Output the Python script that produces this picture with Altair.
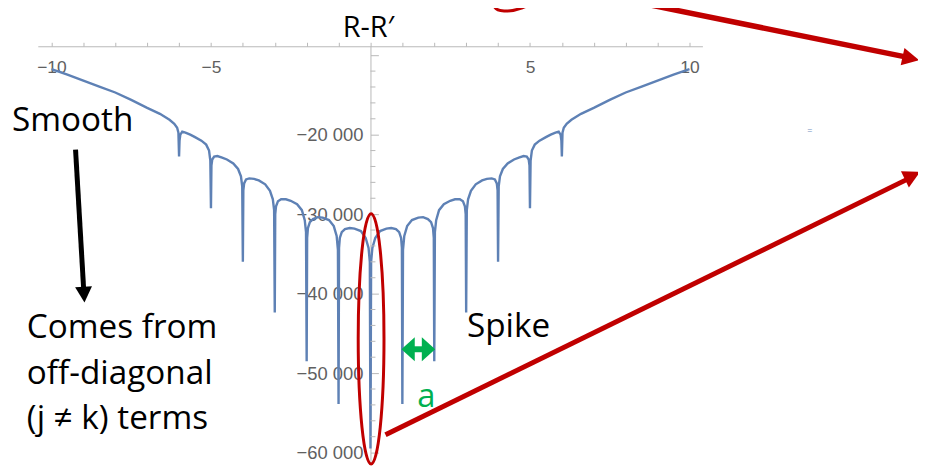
import altair as alt
import pandas as pd

# ---- curve values (x, R-R') ----
X_LEFT = [-10, -9.5, -9, -8.5, -8, -7.5, -7, -6.6, -6.3, -6.15, -6.06, -6.02,
          -6,
          -5.985, -5.96, -5.9, -5.8, -5.65, -5.5, -5.3, -5.15, -5.06, -5.02,
          -5,
          -4.985, -4.96, -4.9, -4.8, -4.65, -4.5, -4.3, -4.15, -4.06, -4.02,
          -4,
          -3.985, -3.96, -3.9, -3.8, -3.65, -3.5, -3.3, -3.15, -3.06, -3.02,
          -3,
          -2.985, -2.96, -2.9, -2.8, -2.65, -2.5, -2.3, -2.15, -2.06, -2.02,
          -2,
          -1.985, -1.96, -1.9, -1.8, -1.65, -1.5, -1.3, -1.15, -1.06, -1.02,
          -1,
          -0.985, -0.96, -0.9, -0.8, -0.65, -0.5, -0.3, -0.15, -0.06, -0.02,
          0]
Y_LEFT = [-11750, -12440, -13190, -13940, -14690, -15625, -16625, -17375, -18125, -18625, -19125, -19750,
          -22750,
          -20750, -20000, -19625, -19750, -20000, -20312, -20750, -21250, -22000, -23250,
          -29250,
          -23875, -23125, -22750, -22688, -22875, -23125, -23625, -24312, -25250, -26500,
          -36000,
          -27000, -26125, -25625, -25500, -25562, -25750, -26250, -27062, -28125, -29500,
          -42375,
          -30000, -29000, -28375, -28125, -28125, -28312, -28750, -29500, -30750, -32250,
          -48500,
          -33000, -31750, -31000, -30625, -30375, -30438, -30750, -31500, -32750, -34500,
          -53875,
          -34250, -33000, -32250, -31875, -31750, -31812, -32125, -33000, -34250, -36000,
          -59500]
X_RIGHT = [0.02, 0.06, 0.15, 0.3, 0.5, 0.65, 0.8, 0.9, 0.96, 0.985,
           1,
           1.02, 1.06, 1.15, 1.3, 1.5, 1.65, 1.8, 1.9, 1.96, 1.985,
           2,
           2.02, 2.06, 2.15, 2.3, 2.5, 2.65, 2.8, 2.9, 2.96, 2.985,
           3,
           3.02, 3.06, 3.15, 3.3, 3.5, 3.65, 3.8, 3.9, 3.96, 3.985,
           4,
           4.02, 4.06, 4.15, 4.3, 4.5, 4.65, 4.8, 4.9, 4.96, 4.985,
           5,
           5.02, 5.06, 5.15, 5.3, 5.5, 5.65, 5.8, 5.9, 5.96, 5.985,
           6,
           6.02, 6.06, 6.15, 6.3, 6.6, 7, 7.5, 8, 8.5, 9, 9.5, 10]
Y_RIGHT = [-36000, -34250, -33000, -32125, -31812, -31750, -31875, -32250, -33000, -34250,
           -53875,
           -34500, -32750, -31500, -30750, -30438, -30375, -30625, -31000, -31750, -33000,
           -48500,
           -32250, -30750, -29500, -28750, -28312, -28125, -28125, -28375, -29000, -30000,
           -42375,
           -29500, -28125, -27062, -26250, -25750, -25562, -25500, -25625, -26125, -27000,
           -36000,
           -26500, -25250, -24312, -23625, -23125, -22875, -22688, -22750, -23125, -23875,
           -29250,
           -23250, -22000, -21250, -20750, -20312, -20000, -19750, -19625, -20000, -20750,
           -22750,
           -19750, -19125, -18625, -18125, -17375, -16625, -15625, -14690, -13940, -13190, -12440, -11750]

# ---- axes ----
X_DOMAIN = [-10.428, 10.406]
Y_DOMAIN = [-61375, -8875]
X_TICKS = [-10, -9, -8, -7, -6, -5, -4, -3, -2, -1, 0, 1, 2, 3, 4, 5, 6, 7, 8, 9, 10]
Y_MAJOR = [-60000, -50000, -40000, -30000, -20000, -10000]
Y_MINOR = [-58000, -56000, -54000, -52000, -48000, -46000, -44000, -42000,
           -38000, -36000, -34000, -32000, -28000, -26000, -24000, -22000,
           -18000, -16000, -14000, -12000]

# ---- slide annotations (in data coordinates) ----
TEXT_LABELS = ["R-R\u2032", "Smooth", "Comes from", "off-diagonal", "(j \u2260 k) terms", "Spike", "a"]
TEXT_X = [-0.867, -11.238, -10.771, -10.771, -10.771, 3.026, 1.468]
TEXT_Y = [-7750, -19588, -45540, -51375, -57000, -45500, -54250]
TEXT_SIZE = [29, 33.5, 33.5, 33.5, 33.5, 33.5, 33]
TEXT_COLOR = ["black", "black", "black", "black", "black", "black", "#00B050"]

SHAFT_X = [-9.245, 0.471, 8.319, 1.219]
SHAFT_Y = [-21875, -57750, -3312, -47000]
SHAFT_X2 = [-8.986, 16.822, 16.73, 1.780]
SHAFT_Y2 = [-39750, -25625, -10187, -47000]
SHAFT_W = [5, 5, 5.5, 6]
SHAFT_COLOR = ["black", "#C00000", "#C00000", "#00B050"]

HEAD_LONG = "M0,0L-1,-1.88L1,-1.88Z"
HEAD_SHORT = "M0,0L-1,-1.12L1,-1.12Z"
HEAD_X = [-8.965, 17.226, 17.195, 0.970, 2.029]
HEAD_Y = [-41125, -24687, -10625, -47000, -47000]
HEAD_ANGLE = [356.7, 243.7, 282.2, 90, 270]
HEAD_SIZE = [289, 324, 324, 576, 576]
HEAD_SHAPE = [HEAD_LONG, HEAD_LONG, HEAD_LONG, HEAD_SHORT, HEAD_SHORT]
HEAD_COLOR = ["black", "#C00000", "#C00000", "#00B050", "#00B050"]

ELL_V = "M0,-1A0.103,1,0,1,1,0,1A0.103,1,0,1,1,0,-1"
ELL_H = "M-1,0A1,0.42,0,1,1,1,0A1,0.42,0,1,1,-1,0"
ELL_X = [0.02, 4.645]
ELL_Y = [-45687, -2750]
ELL_ANGLE = [0, 340]
ELL_SIZE = [63504, 2704]
ELL_SHAPE = [ELL_V, ELL_H]

curve = pd.DataFrame({"x": X_LEFT + X_RIGHT, "y": Y_LEFT + Y_RIGHT})
texts = pd.DataFrame({"t": TEXT_LABELS, "x": TEXT_X, "y": TEXT_Y, "s": TEXT_SIZE, "c": TEXT_COLOR})
shafts = pd.DataFrame({"x": SHAFT_X, "y": SHAFT_Y, "x2": SHAFT_X2, "y2": SHAFT_Y2, "w": SHAFT_W, "c": SHAFT_COLOR})
heads = pd.DataFrame({"x": HEAD_X, "y": HEAD_Y, "a": HEAD_ANGLE, "s": HEAD_SIZE, "sh": HEAD_SHAPE, "c": HEAD_COLOR})
ells = pd.DataFrame({"x": ELL_X, "y": ELL_Y, "a": ELL_ANGLE, "s": ELL_SIZE, "sh": ELL_SHAPE})
eq = pd.DataFrame({"x": [13.77], "y": [-19500], "t": ["="]})
minor = pd.DataFrame({"x": [0] * len(Y_MINOR), "y": Y_MINOR})

xs = alt.Scale(domain=X_DOMAIN, nice=False, zero=False)
ys = alt.Scale(domain=Y_DOMAIN, nice=False, zero=False)
AX = "#b8b8b8"
LBL = "#606060"
TFONT = "Open Sans"

x_axis = alt.Axis(orient="top", values=X_TICKS, tickSize=4, tickColor=AX, domainColor=AX,
                  labelExpr="abs(datum.value) == 10 || abs(datum.value) == 5 ? format(datum.value, 'd') : ''",
                  labelPadding=-16, labelBaseline="top", labelFont="Liberation Sans", labelFontSize=17.5,
                  labelColor=LBL, grid=False, title=None, labelFlush=False, labelOverlap=False)
y_axis = alt.Axis(orient="right", offset=-334.15, values=Y_MAJOR, tickSize=8, tickColor=AX,
                  domainColor=AX, labelAlign="right", labelPadding=-15.5,
                  labelExpr="datum.value == -10000 ? '' : replace(format(datum.value, ','), ',', ' ')",
                  labelFont="Liberation Sans", labelFontSize=18.5, labelColor=LBL, grid=False, title=None,
                  labelFlush=False, labelOverlap=False)

X = alt.X("x:Q", scale=xs, axis=x_axis)
Y = alt.Y("y:Q", scale=ys, axis=y_axis)

line = alt.Chart(curve).mark_line(color="#5E81B5", strokeWidth=2.4).encode(x=X, y=Y)

minor_layer = alt.Chart(minor).mark_rule(color=AX, strokeWidth=1, x2Offset=5).encode(
    x=X, x2="x:Q", y=Y,
)

text_layer = alt.Chart(texts).mark_text(align="left", baseline="alphabetic", font=TFONT, clip=False).encode(
    x=X, y=Y,
    text="t:N",
    size=alt.Size("s:Q", scale=None),
    color=alt.Color("c:N", scale=None),
)

eq_layer = alt.Chart(eq).mark_text(align="center", baseline="middle", font="Open Sans", fontSize=9,
                                   color="#7090c0", clip=False).encode(x=X, y=Y, text="t:N")

shaft_layer = alt.Chart(shafts).mark_rule(clip=False).encode(
    x=X, y=Y,
    x2="x2:Q",
    y2="y2:Q",
    strokeWidth=alt.StrokeWidth("w:Q", scale=None),
    color=alt.Color("c:N", scale=None),
)

head_layer = alt.Chart(heads).mark_point(filled=True, opacity=1, clip=False).encode(
    x=X, y=Y,
    angle=alt.Angle("a:Q", scale=None),
    size=alt.Size("s:Q", scale=None),
    shape=alt.Shape("sh:N", scale=None),
    color=alt.Color("c:N", scale=None),
)

ell_layer = alt.Chart(ells).mark_point(filled=False, opacity=1, strokeWidth=3, color="#C00000", clip=False).encode(
    x=X, y=Y,
    angle=alt.Angle("a:Q", scale=None),
    size=alt.Size("s:Q", scale=None),
    shape=alt.Shape("sh:N", scale=None),
)

chart = alt.layer(line, minor_layer, text_layer, eq_layer, shaft_layer, head_layer, ell_layer).properties(
    width=669, height=420,
    padding={"left": 30, "top": 37, "right": 217, "bottom": 3},
    autosize=alt.AutoSizeParams(type="none"),
).configure_view(stroke=None)

chart.save("out.html", embed_options={"renderer": "svg", "actions": False})
